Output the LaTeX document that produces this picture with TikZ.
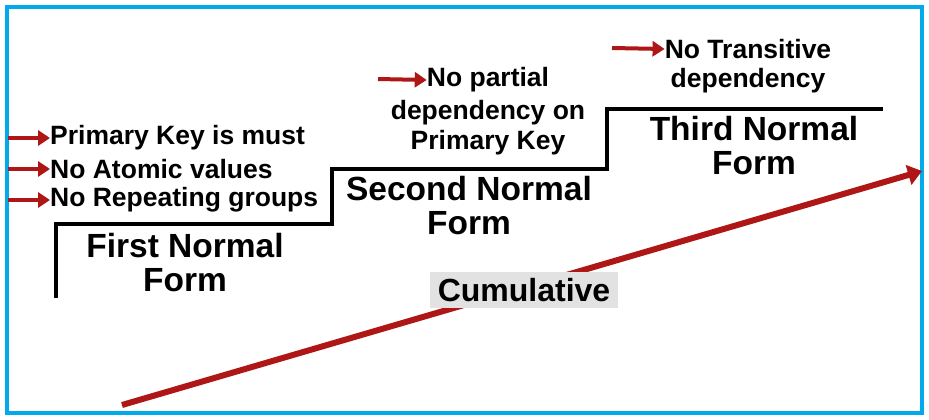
\documentclass[tikz,border=0pt]{standalone}
\usepackage{fontspec}
\setmainfont{Liberation Sans}
\usetikzlibrary{arrows.meta,positioning}
\definecolor{frameblue}{RGB}{0,170,235}
\definecolor{arrowred}{RGB}{175,22,22}
\definecolor{boxgray}{RGB}{226,226,226}
\tikzset{
 rule/.style={font=\bfseries\fontsize{26.5}{30}\selectfont, inner sep=0pt},
 heading/.style={font=\bfseries\fontsize{33.5}{34}\selectfont, align=center, inner sep=0pt},
 pointer/.style={arrowred, line width=4pt, -{Triangle[length=12pt,width=15pt]}}
}

\begin{document}
\begin{tikzpicture}[x=1pt,y=-1pt]
 \useasboundingbox (0,0) rectangle (929,420);
 \fill[white] (0,0) rectangle (929,420);
 \draw[frameblue, line width=4pt] (6.5,7.5) rectangle (921.5,412.5);

 % the three steps
 \draw[line width=4pt] (56,298) -- (56,224) -- (332,224) -- (332,169) -- (607,169) -- (607,109) -- (883,109);

 \node[heading] (first) at (185,263) {First Normal\\Form};
 \node[heading] (second) at (469,206) {Second Normal\\Form};
 \node[heading] (third) at (754,146) {Third Normal\\Form};

 % rules of each form
 \node[rule, anchor=west] (pk) at (50,138) {Primary Key is must};
 \node[rule, anchor=west] (atomic) at (50,169) {No Atomic values};
 \node[rule, anchor=west] (groups) at (50,200) {No Repeating groups};
 \coordinate (pkfrom) at (8,138);
 \coordinate (atomicfrom) at (8,169);
 \coordinate (groupsfrom) at (8,200);
 \draw[pointer] (pkfrom) -- (pk.west);
 \draw[pointer] (atomicfrom) -- (atomic.west);
 \draw[pointer] (groupsfrom) -- (groups.west);

 \node[rule] (partial) at (488,80) {No partial};
 \node[rule, align=center, below=8pt of partial] (partialon) {dependency on\\Primary Key};
 \coordinate (partialfrom) at (378,79);
 \draw[pointer] (partialfrom) -- (partial.west);

 \node[rule] (transitive) at (748,49) {No Transitive};
 \node[rule, below=9pt of transitive] (transitiveon) {dependency};
 \coordinate (transitivefrom) at (612,48);
 \draw[pointer] (transitivefrom) -- (transitive.west);

 % cumulative arrow
 \coordinate (low) at (122,405);
 \coordinate (high) at (922,171);
 \draw[arrowred, line width=6pt, -{Triangle[length=14pt,width=20pt]}] (low) -- (high);
 \node[fill=boxgray, font=\bfseries\fontsize{32}{34}\selectfont, inner xsep=8pt, inner ysep=6pt] (cum) at (524,290) {Cumulative};
\end{tikzpicture}
\end{document}
